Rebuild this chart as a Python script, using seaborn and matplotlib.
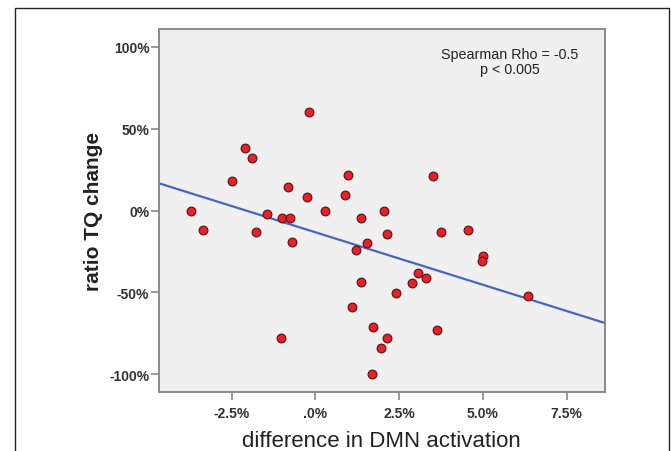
import numpy as np
import pandas as pd
import matplotlib.pyplot as plt
import seaborn as sns
from matplotlib.patches import Rectangle
from matplotlib.ticker import FuncFormatter

"""Data read off the figure (percent units)"""
dmn_diff = [-3.72, -3.35, -2.50, -2.09, -1.90, -1.78, -1.45, -1.01, -0.77, -0.81,
            -0.71, -1.04, -0.26, -0.18, 0.28, 0.87, 0.96, 1.37, 1.22, 1.55,
            1.37, 1.10, 1.71, 1.69, 1.97, 2.14, 2.06, 2.15, 2.41, 2.88,
            3.05, 3.29, 3.50, 3.62, 3.74, 4.56, 4.99, 4.96, 6.33]
tq_change = [0.0, -11.8, 18.2, 38.4, 31.8, -13.3, -2.4, -4.3, -4.3, 14.3,
             -19.4, -77.6, 8.4, 60.0, 0.0, 9.6, 21.8, -4.3, -23.9, -20.0,
             -43.5, -59.2, -71.0, -100.0, -84.0, -77.6, 0.0, -14.1, -50.6, -44.5,
             -38.4, -41.2, 21.2, -72.7, -13.1, -11.6, -27.6, -30.6, -52.0]
x_ticks = [-2.5, 0.0, 2.5, 5.0, 7.5]
x_labels = ["-2.5%", ".0%", "2.5%", "5.0%", "7.5%"]
y_ticks = [-100, -50, 0, 50, 100]

df = pd.DataFrame({"dmn": dmn_diff, "tq": tq_change})

sns.set_style("white")
plt.rcParams["font.family"] = ["Liberation Sans", "DejaVu Sans"]

fig = plt.figure(figsize=(6.71, 4.52), dpi=100)
ax = fig.add_axes([0.237, 0.130, 0.664, 0.804])
ax.set_facecolor("#f0f0f0")
ax.set_xlim(-4.67, 8.63)
ax.set_ylim(-111, 111)

sns.regplot(data=df, x="dmn", y="tq", ax=ax, ci=None, truncate=False,
            scatter_kws={"s": 40, "color": "#e8202a", "edgecolor": "#5a1010",
                         "linewidths": 0.8, "alpha": 1, "zorder": 3},
            line_kws={"color": "#4766c0", "lw": 1.6, "zorder": 2})

ax.set_xticks(x_ticks)
ax.set_xticklabels(x_labels)
ax.set_yticks(y_ticks)
ax.yaxis.set_major_formatter(FuncFormatter(lambda v, p: f"{v:.0f}%"))
ax.tick_params(axis="both", direction="out", length=6, width=1.2, color="#888888",
               labelsize=10, labelcolor="#333333", bottom=True, left=True)
ax.tick_params(axis="y", pad=1)
ax.tick_params(axis="x", pad=4)
for lab in ax.get_xticklabels() + ax.get_yticklabels():
    lab.set_fontweight("bold")
for sp in ax.spines.values():
    sp.set_color("#8a8a8a")
    sp.set_linewidth(1.4)

ax.set_xlabel("")
ax.set_ylabel("ratio TQ change", fontsize=15, fontweight="bold", color="#222222")
ax.yaxis.set_label_coords(-0.125, 0.5)
fig.text(381 / 671, 4.5 / 452, "difference in DMN activation", ha="center",
         va="baseline", fontsize=16, color="#222222")

ax.text(0.788, 0.931, "Spearman Rho = -0.5", transform=ax.transAxes,
        ha="center", va="center", fontsize=10.3, color="#222222")
ax.text(0.788, 0.890, "p < 0.005", transform=ax.transAxes,
        ha="center", va="center", fontsize=10.3, color="#222222")

fig.add_artist(Rectangle((15 / 671, -0.1), (668.5 - 15) / 671, 1.1 - 9.3 / 452,
                         transform=fig.transFigure, fill=False,
                         edgecolor="#222222", lw=1.0))

fig.savefig("out.png", dpi=100)
